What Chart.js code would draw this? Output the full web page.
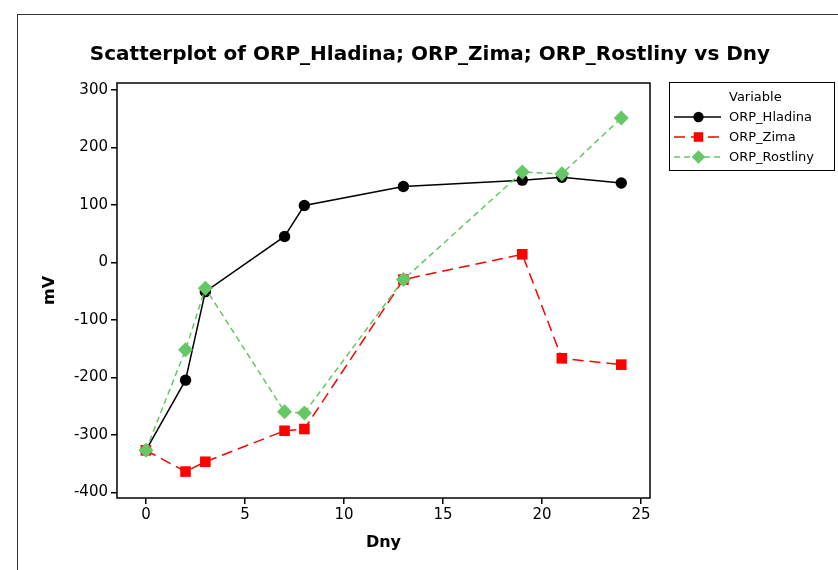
<!DOCTYPE html>
<html>
<head>
<meta charset="utf-8">
<script src="https://cdn.jsdelivr.net/npm/chart.js@4.4.1/dist/chart.umd.min.js"></script>
<style>
  html, body { margin: 0; padding: 0; background: #fff; }
  #wrap { width: 838px; height: 570px; position: relative; }
</style>
</head>
<body>
<div id="wrap"><canvas id="graf" width="838" height="570"></canvas></div>
<script>
// datos
var dny = [0, 2, 3, 7, 8, 13, 19, 21, 24];
var hladina = [-327, -205, -51, 45, 99, 132, 143, 148, 138];
var zima = [-327, -364, -347, -293, -290, -30, 14, -167, -178];
var rostliny = [-327, -152, -45, -260, -262, -30, 157, 154, 251];
var xTicks = [0, 5, 10, 15, 20, 25];
var yTicks = [-400, -300, -200, -100, 0, 100, 200, 300];
var nombres = ["ORP_Hladina", "ORP_Zima", "ORP_Rostliny"];

var fuente = "'DejaVu Sans', Verdana, sans-serif";

function puntos(ys){
  return dny.map(function(x, i){ return {x: x, y: ys[i]}; });
}

var series = [
  {label: nombres[0], data: puntos(hladina), borderColor: "#000000", backgroundColor: "#000000",
   borderDash: [], pointStyle: "circle", pointRadius: 5.7, order: 3},
  {label: nombres[1], data: puntos(zima), borderColor: "#ff0000", backgroundColor: "#ff0000",
   borderDash: [11, 6], pointStyle: "rect", pointRadius: 7.5, order: 2},
  {label: nombres[2], data: puntos(rostliny), borderColor: "#66c766", backgroundColor: "#66c766",
   borderDash: [6, 4], pointStyle: "rectRot", pointRadius: 7.5, order: 1}
];
series.forEach(function(s){
  s.showLine = true;
  s.borderWidth = 1.5;
  s.pointBorderWidth = 0;
  s.pointHoverRadius = s.pointRadius;
});

// marco exterior, titulo, caja del grafico y leyenda
var decoracion = {
  id: "decoracion",
  beforeDraw: function(chart){
    var ctx = chart.ctx;
    ctx.save();
    ctx.fillStyle = "#fff";
    ctx.fillRect(0, 0, chart.width, chart.height);
    ctx.strokeStyle = "#333";
    ctx.lineWidth = 1;
    ctx.strokeRect(17.5, 14.5, 900, 600);
    ctx.restore();
  },
  afterDraw: function(chart){
    var ctx = chart.ctx;
    var a = chart.chartArea;
    ctx.save();
    ctx.strokeStyle = "#000";
    ctx.lineWidth = 1.5;
    ctx.strokeRect(a.left, a.top, a.right - a.left, a.bottom - a.top);

    ctx.fillStyle = "#000";
    ctx.font = "bold 20px " + fuente;
    ctx.textAlign = "center";
    ctx.textBaseline = "middle";
    ctx.fillText("Scatterplot of ORP_Hladina; ORP_Zima; ORP_Rostliny vs Dny", 430, 55);

    // leyenda
    ctx.lineWidth = 1;
    ctx.strokeStyle = "#000";
    ctx.strokeRect(669.5, 82.5, 165, 88);
    ctx.font = "13px " + fuente;
    ctx.textAlign = "left";
    ctx.fillText("Variable", 729, 98);
    chart.data.datasets.forEach(function(ds, i){
      var y = 117 + i * 20;
      ctx.beginPath();
      ctx.strokeStyle = ds.borderColor;
      ctx.lineWidth = 1.5;
      ctx.setLineDash(ds.borderDash);
      ctx.moveTo(674, y);
      ctx.lineTo(721, y);
      ctx.stroke();
      ctx.setLineDash([]);
      ctx.fillStyle = ds.backgroundColor;
      Chart.helpers.drawPoint(ctx, {pointStyle: ds.pointStyle, radius: ds.pointRadius * 0.9, borderWidth: 0}, 698.5, y);
      ctx.fillStyle = "#000";
      ctx.fillText(ds.label, 729, y + 1);
    });
    ctx.restore();
  }
};

function fijarTicks(lista){
  return function(axis){
    axis.ticks = lista.map(function(v){ return {value: v}; });
  };
}

var config = {
  type: "scatter",
  data: { datasets: series },
  options: {
    responsive: false,
    animation: false,
    layout: { padding: { top: 83, right: 188, left: 36, bottom: 14 } },
    plugins: { legend: { display: false }, tooltip: { enabled: false } },
    scales: {
      x: {
        type: "linear",
        min: -1.46, max: 25.45,
        afterBuildTicks: fijarTicks(xTicks),
        afterFit: function(axis){ axis.height = 58; },
        grid: { drawOnChartArea: false, drawTicks: true, tickLength: 6, color: "#000", lineWidth: 1.5 },
        border: { display: false },
        ticks: { color: "#000", font: { family: fuente, size: 15 }, padding: 2, maxRotation: 0 },
        title: { display: true, text: "Dny", color: "#000", font: { family: fuente, size: 16, weight: "bold" }, padding: { top: 4 } }
      },
      y: {
        type: "linear",
        min: -410, max: 312,
        afterBuildTicks: fijarTicks(yTicks),
        afterFit: function(axis){ axis.width = 81; },
        grid: { drawOnChartArea: false, drawTicks: true, tickLength: 6, color: "#000", lineWidth: 1.5 },
        border: { display: false },
        ticks: { color: "#000", font: { family: fuente, size: 15 }, padding: 3 },
        title: { display: true, text: "mV", color: "#000", font: { family: fuente, size: 16, weight: "bold" }, padding: { bottom: 4 } }
      }
    }
  },
  plugins: [decoracion]
};

var contenedor = document.getElementById("graf").getContext("2d");
var grafica = new Chart(contenedor, config);
</script>
</body>
</html>
